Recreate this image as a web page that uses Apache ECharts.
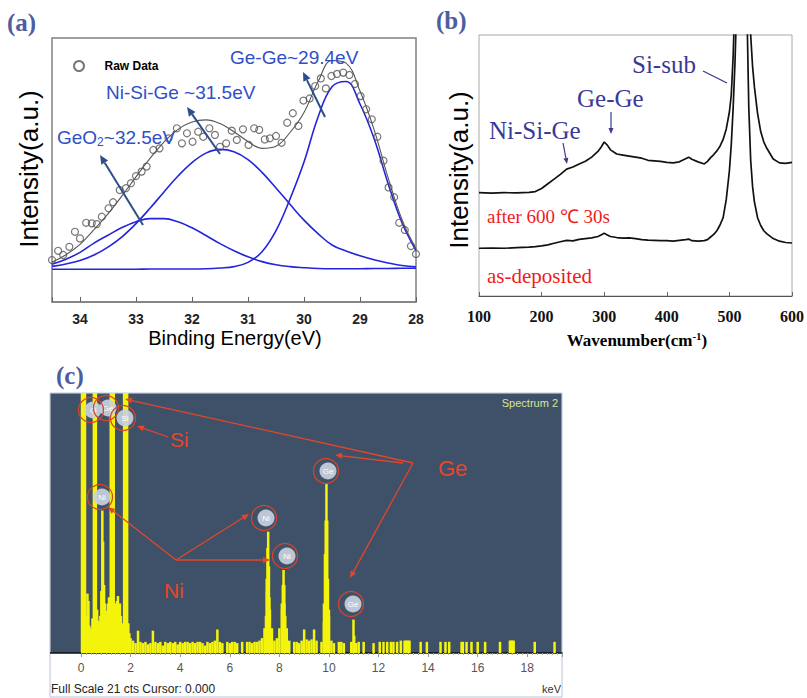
<!DOCTYPE html>
<html><head><meta charset="utf-8">
<script src="https://cdn.jsdelivr.net/npm/echarts@6/dist/echarts.min.js"></script>
<style>html,body{margin:0;padding:0;background:#fff}#c{width:807px;height:698px}</style>
</head><body><div id="c"></div>
<script>
// ---------- (a) XPS Ge 3d ----------
const xpsEnergy = [34.5,34.25,34,33.75,33.5,33.25,33,32.75,32.5,32.25,32,31.75,31.5,31.25,31,30.75,30.5,30.25,30,29.75,29.5,29.25,29,28.75,28.5,28.25,28];
const xpsGeO2   = [14.3,16.2,18.8,22.3,25.3,28.2,30.4,31.6,31.6,30.4,28.1,25.2,22.1,19.4,17.1,15.3,14.1,13.4,13.0,12.7,12.6,12.6,12.6,12.7,12.7,12.8,12.8];
const xpsNiSiGe = [13.5,14.4,15.7,17.8,20.8,24.7,29.7,35.5,41.7,47.7,52.8,56.4,57.8,56.9,53.9,49.1,43.2,37.0,31.0,25.9,21.6,19.3,17.5,16.0,14.8,13.8,13.3];
const xpsGeGe   = [12.4,12.4,12.4,12.4,12.4,12.4,12.4,12.5,12.5,12.5,12.5,12.6,12.9,13.4,15.0,19.0,27.0,39.0,53.0,70.0,81.5,83.5,75.0,62.0,45.0,30.0,19.5];
const xpsFit    = [15.1,17.9,21.8,27.4,33.4,40.2,47.4,54.4,60.6,65.4,68.2,69.0,67.6,64.5,60.8,58.2,59.0,64.2,71.8,83.4,91.5,90.5,79.9,65.4,47.2,31.2,20.2];
const rawEnergy    = [34.5,34.39,34.3,34.19,34.09,34.0,33.89,33.79,33.7,33.61,33.49,33.41,33.29,33.18,33.09,33.0,32.9,32.81,32.69,32.58,32.42,32.27,32.18,32.09,31.99,31.89,31.8,31.69,31.59,31.5,31.39,31.29,31.2,31.09,30.99,30.89,30.8,30.7,30.61,30.5,30.4,30.3,30.2,30.1,30.01,29.9,29.8,29.7,29.61,29.51,29.41,29.3,29.19,29.09,28.99,28.89,28.79,28.69,28.58,28.49,28.39,28.3,28.2,28.09,28.0];
const rawIntensity = [15.9,19.4,17.8,20.9,26.6,24.1,30.0,29.8,29.5,32.3,35.5,37.8,42.4,43.1,45.0,47.7,49.4,51.3,57.6,58.2,62.0,65.8,60.1,63.9,60.7,64.5,62.6,65.8,63.3,58.8,60.1,64.9,61.4,65.4,59.5,65.8,65.2,61.6,62.0,62.9,60.3,67.9,71.5,66.7,76.3,77.1,81.8,84.7,80.9,85.6,86.4,86.9,86.0,82.6,78.0,73.0,69.2,62.6,53.5,43.4,39.7,30.0,27.3,21.2,18.2];

// ---------- (b) Raman ----------
const ramanShift = [100,120,140,160,180,190,200,210,220,230,240,250,260,270,280,290,295,300,305,310,320,330,340,350,360,370,380,390,400,410,420,430,435,440,450,460,465,470,475,480,485,490,495,500,503,506,509,512,515,520,525,528,531,534,537,540,545,550,555,560,570,580,590,600];
const ramanAnnealed = [39.6,39.4,39.6,39.5,39.7,40.0,41.2,43.0,44.8,46.6,48.6,49.4,50.6,51.6,53.2,55.4,57.0,59.0,57.8,56.0,54.4,54.0,53.6,53.2,52.8,52.0,51.8,51.6,51.2,51.0,51.4,52.6,53.2,52.4,51.4,50.6,51.6,53.0,54.2,55.6,57.4,60.0,64.0,70.5,77,92,115,150,200,260,200,150,118,100,88,80,70,63,59,56.5,52.5,51,50.8,51.2];
const ramanAsDep   = [18.3,18.4,18.3,18.5,18.7,18.9,19.2,19.6,20.2,20.8,21.3,21.1,21.7,22.0,22.3,22.8,23.4,24.0,23.4,22.8,22.4,22.2,22.3,22.0,21.6,21.4,21.3,21.2,21.2,21.0,21.3,21.6,21.8,21.2,21.0,21.2,21.6,22.6,23.6,25.0,27.2,30.0,37,48,58,72,90,115,170,240,160,110,72,52,42,36,30,27,25,23.8,22.0,21,20.5,20.3];
const ramanTicks = [100,200,300,400,500,600];

// ---------- (c) EDS ----------
const edsBgStart = 2.0, edsBgStep = 0.1;
const edsBgCts = [
 1.2,1.0,0.8,1.8,0.9,0.8,0.9,0.7,0.8,1.8,
 0.9,0.8,0.9,0.6,0.9,0.8,0.9,0.8,0.9,0.7,
 0.9,0.8,0.9,0.9,0.8,0.9,0.8,0.9,0.9,0.8,
 0.6,0.9,0.8,0.9,1.0,1.9,0.9,0.8,0,0.9,
 0.8,0.9,0.9,0.8,0,0.9,0,0.9,0.9,0.8,
 0.9,0.9,1.0,1.2,2.0,5.0,4.5,2.0,1.0,1.2,
 2.0,4.0,4.0,2.0,1.0,0,0.9,0.9,0.8,1.0,
 1.9,1.1,1.0,1.1,1.9,1.0,0,0.9,2.5,8.0,
 3.0,1.0,0.8,0,0.9,0.9,0.8,0,0,0.9,
 1.0,0.8,0.9,0,0.9,0,0,0,0.8,0];
const edsPeakKeV = [0.04,0.08,0.12,0.16,0.22,0.26,0.30,0.34,0.38,0.42,0.46,0.52,0.56,0.60,0.65,0.70,0.74,0.78,0.82,0.86,0.89,0.93,0.97,1.01,1.05,1.09,1.13,1.20,1.24,1.28,1.32,1.37,1.41,1.45,1.49,1.53,1.57,1.61,1.65,1.69,1.74,1.78,1.82,1.86,1.91,1.95,
 7.46,7.49,7.52,7.55,7.58,7.62, 8.11,8.14,8.17,8.20,8.24, 9.80,9.84,9.87,9.90,9.93,9.96,10.0, 10.99,11.02,
 12.05,12.2,12.35,12.5,12.6,12.75,12.9,13.05,13.1,13.15,13.2,13.25,13.7,13.95,14.5,14.7,14.85,15.35,15.4,15.55,15.75,16.0,16.3,16.9,17.3,17.35,17.4,17.45,18.3,19.1];
const edsPeakCts = [30,30,30,30,3.0,4.8,4.2,2.2,1.5,2.0,2.8,30,30,30,3.5,2.6,2.2,3.0,5.0,11.5,9.0,5.5,4.0,3.0,3.4,4.0,4.5,30,30,30,30,4.0,3.4,4.2,4.6,3.8,4.0,3.0,2.4,2.0,30,30,30,30,2.4,1.6,
 3.0,6.0,8.5,9.8,7.0,3.5, 3.5,5.5,6.7,5.5,3.0, 4.0,8.0,10.7,13.7,10.7,6.0,3.5, 2.7,1.4,
 0.9,0.9,0.9,0.9,0.9,0.9,1.0,1.0,1.0,1.0,1.0,1.0,0.9,0.9,0.9,0.9,0.9,0.9,0.9,0.9,0.9,0.9,0.9,0.9,1.0,1.0,1.0,1.0,0.9,0.9];
const edsTicks = [0,2,4,6,8,10,12,14,16,18];

// ---------- build ----------
const zip = (a, b) => a.map((v, i) => [v, b[i]]);
const edsData = edsBgCts.map((v, i) => [+(edsBgStart + i * edsBgStep).toFixed(2), v]).concat(zip(edsPeakKeV, edsPeakCts));

const SANS = '"Liberation Sans", Arial, sans-serif';
const SERIF = '"Liberation Serif", "Times New Roman", serif';
const NARROW = '"Liberation Sans Narrow", "Liberation Sans", sans-serif';
const BLUE_TXT = '#2f4fc6', BLUE_ARROW = '#2c4f8c', LBL = '#4d5d9f', RED = '#e3462c', RAMAN_TXT = '#3a3a96';

function txt(x, y, text, font, fill, align, extra) {
  return Object.assign({ type: 'text', x, y, z: 30, style: { text, font, fill, align: align || 'left', textAlign: align || 'left', verticalAlign: 'middle', textVerticalAlign: 'middle' } }, extra || {});
}
function arrow(x1, y1, x2, y2, color, w, hl, hw) {
  const a = Math.atan2(y2 - y1, x2 - x1);
  const bx = x2 - hl * Math.cos(a), by = y2 - hl * Math.sin(a);
  const px = -Math.sin(a) * hw, py = Math.cos(a) * hw;
  return [
    { type: 'line', z: 30, shape: { x1, y1, x2: bx, y2: by }, style: { stroke: color, lineWidth: w } },
    { type: 'polygon', z: 30, shape: { points: [[x2, y2], [bx + px, by + py], [bx - px, by - py]] }, style: { fill: color } }
  ];
}
function tag(cx, cy, label) {
  return [
    { type: 'circle', z: 25, shape: { cx: cx, cy: cy, r: 8.5 }, style: { fill: 'rgba(200,208,222,0.92)' } },
    { type: 'text', z: 26, x: cx, y: cy, style: { text: label, font: '8px ' + SANS, fill: '#ffffff', align: 'center', textAlign: 'center', verticalAlign: 'middle', textVerticalAlign: 'middle' } },
    { type: 'circle', z: 27, shape: { cx: cx - 2, cy: cy, r: 12.5 }, style: { fill: 'none', stroke: '#d8442a', lineWidth: 1.2 } }
  ];
}

const graphics = [
  // panel (c) frame and dark plot background
  { type: 'rect', z: -5, shape: { x: 50, y: 393, width: 512, height: 304 }, style: { fill: '#ffffff', stroke: '#b9c6d8', lineWidth: 1 } },
  { type: 'rect', z: -4, shape: { x: 50.5, y: 393.5, width: 511, height: 259.5 }, style: { fill: '#3f5169' } },
  { type: 'line', z: 5, shape: { x1: 50, y1: 653, x2: 81, y2: 653 }, style: { stroke: '#111', lineWidth: 1.5 } },
  // panel labels
  txt(7, 22, '(a)', 'bold 25px ' + SERIF, LBL),
  txt(436, 20, '(b)', 'bold 25px ' + SERIF, LBL),
  txt(56, 375, '(c)', 'bold 25px ' + SERIF, LBL),
  // (a) titles
  txt(29, 169, 'Intensity(a.u.)', '26px ' + SANS, '#000', 'center', { rotation: Math.PI / 2 }),
  txt(235, 338, 'Binding Energy(eV)', '20px ' + SANS, '#000', 'center'),
  txt(230, 57, 'Ge-Ge~29.4eV', '19px ' + SANS, BLUE_TXT),
  txt(106, 92, 'Ni-Si-Ge ~31.5eV', '19px ' + SANS, BLUE_TXT),
  { type: 'text', x: 57, y: 137, z: 30, style: { text: '{a|GeO}{s|2}{a|~32.5eV}', align: 'left', textAlign: 'left', verticalAlign: 'middle', textVerticalAlign: 'middle',
      rich: { a: { font: '19px ' + SANS, fill: BLUE_TXT, color: BLUE_TXT }, s: { font: '12px ' + SANS, fill: BLUE_TXT, color: BLUE_TXT, padding: [10, 0, 0, 0] } } } },
  ...arrow(143, 225, 100, 155, BLUE_ARROW, 2, 9, 4),
  ...arrow(220, 154, 187, 107, BLUE_ARROW, 2, 9, 4),
  ...arrow(325, 117, 303, 72, BLUE_ARROW, 2, 9, 4),
  // (b) titles
  txt(459, 170, 'Intensity(a.u.)', '26px ' + SANS, '#000', 'center', { rotation: Math.PI / 2 }),
  { type: 'text', x: 637, y: 340, z: 30, style: { text: '{a|Wavenumber(cm}{s|-1}{a|)}', align: 'center', textAlign: 'center', verticalAlign: 'middle', textVerticalAlign: 'middle',
      rich: { a: { font: 'bold 17px ' + SERIF, fill: '#000', color: '#000' }, s: { font: 'bold 11px ' + SERIF, fill: '#000', color: '#000', padding: [0, 0, 8, 0] } } } },
  txt(632, 64, 'Si-sub', '25px ' + SERIF, RAMAN_TXT),
  { type: 'line', z: 30, shape: { x1: 703, y1: 71, x2: 727, y2: 83 }, style: { stroke: RAMAN_TXT, lineWidth: 1.3 } },
  txt(577, 98, 'Ge-Ge', '25px ' + SERIF, RAMAN_TXT),
  ...arrow(611, 112, 611, 134, RAMAN_TXT, 1.2, 6, 2.5),
  txt(489, 130, 'Ni-Si-Ge', '25px ' + SERIF, RAMAN_TXT),
  ...arrow(563, 143, 567, 164, RAMAN_TXT, 1.2, 6, 2.5),
  txt(487, 216, 'after 600 \u2103 30s', '19px ' + SERIF, '#ee1c1c'),
  txt(487, 276, 'as-deposited', '21px ' + SERIF, '#ee1c1c'),
  // (c) texts
  txt(558, 403, 'Spectrum 2', '11px ' + NARROW, '#d6e69a', 'right'),
  txt(51, 689, 'Full Scale 21 cts Cursor: 0.000', '12px ' + NARROW, '#222', 'left'),
  txt(561, 689, 'keV', '11px ' + NARROW, '#333', 'right'),
  ...tag(93, 410, 'O'),
  ...tag(108, 408, 'Ge'),
  ...tag(125, 418, 'Si'),
  ...tag(102, 497, 'Ni'),
  ...tag(266, 518, 'Ni'),
  ...tag(287, 556, 'Ni'),
  ...tag(328, 471, 'Ge'),
  ...tag(353, 604, 'Ge'),
  txt(170, 439, 'Si', '21px ' + SANS, RED),
  txt(164, 590, 'Ni', '21px ' + SANS, RED),
  txt(438, 468, 'Ge', '22px ' + SANS, RED),
  ...arrow(168, 437, 137, 426, RED, 1.3, 7, 3),
  ...arrow(176, 560, 108, 507, RED, 1.3, 7, 3),
  ...arrow(176, 560, 249, 514, RED, 1.3, 7, 3),
  ...arrow(176, 560, 270, 560, RED, 1.3, 7, 3),
  ...arrow(413, 463, 125, 399, RED, 1.3, 7, 3),
  ...arrow(403, 463, 335, 455, RED, 1.3, 7, 3),
  ...arrow(413, 463, 350, 578, RED, 1.3, 7, 3)
];

const chart = echarts.init(document.getElementById('c'), null, { renderer: 'svg' });
chart.setOption({
  animation: false,
  backgroundColor: '#ffffff',
  legend: { data: ['Raw Data'], left: 68, top: 55, itemWidth: 25, itemHeight: 10, textStyle: { fontFamily: SANS, fontWeight: 'bold', fontSize: 12, color: '#000', padding: [0, 0, 0, 8] } },
  grid: [
    { left: 52, top: 38, width: 364, height: 264, show: true, borderColor: '#808080', borderWidth: 1.5, backgroundColor: 'transparent' },
    { left: 479, top: 35, width: 317, height: 261, show: true, borderColor: '#a8a8a8', borderWidth: 1, backgroundColor: 'transparent' },
    { left: 81, top: 393, width: 481, height: 260 }
  ],
  xAxis: [
    { gridIndex: 0, type: 'value', min: 28, max: 34.5, interval: 1, inverse: true,
      axisLine: { lineStyle: { color: '#808080', width: 1.5 } }, axisTick: { inside: true, length: 5, lineStyle: { color: '#666' } },
      splitLine: { show: false },
      axisLabel: { margin: 10, fontFamily: SANS, fontSize: 14, fontWeight: 'bold', color: '#222', formatter: v => Number.isInteger(v) ? String(v) : '' } },
    { gridIndex: 1, type: 'value', min: 100, max: 600, interval: 100,
      axisLine: { lineStyle: { color: '#555', width: 1 } }, axisTick: { inside: true, length: 4, lineStyle: { color: '#666' } },
      splitLine: { show: false },
      axisLabel: { margin: 12, fontFamily: SERIF, fontSize: 16, fontWeight: 'bold', color: '#111', formatter: v => ramanTicks.includes(v) ? String(v) : '' } },
    { gridIndex: 2, type: 'value', min: 0, max: 19.4, interval: 2,
      axisLine: { lineStyle: { color: '#111', width: 1.5 } }, axisTick: { length: 4, lineStyle: { color: '#999' } },
      minorTick: { show: true, splitNumber: 10, length: 2, lineStyle: { color: '#aaa' } },
      splitLine: { show: false },
      axisLabel: { margin: 9, fontFamily: NARROW, fontSize: 12, color: '#555', formatter: v => edsTicks.includes(v) ? String(v) : '' } }
  ],
  yAxis: [
    { gridIndex: 0, type: 'value', min: 0, max: 100, show: true, axisLine: { show: false }, axisTick: { show: false }, axisLabel: { show: false }, splitLine: { show: false } },
    { gridIndex: 1, type: 'value', min: 0, max: 100, show: true, axisLine: { show: false }, axisTick: { show: false }, axisLabel: { show: false }, splitLine: { show: false } },
    { gridIndex: 2, type: 'value', min: 0, max: 21, show: true, axisLine: { show: false }, axisTick: { show: false }, axisLabel: { show: false }, splitLine: { show: false } }
  ],
  series: [
    { name: 'GeO2', type: 'line', xAxisIndex: 0, yAxisIndex: 0, data: zip(xpsEnergy, xpsGeO2), smooth: 0.4, showSymbol: false, lineStyle: { color: '#2424dc', width: 1.6 }, z: 3 },
    { name: 'Ni-Si-Ge', type: 'line', xAxisIndex: 0, yAxisIndex: 0, data: zip(xpsEnergy, xpsNiSiGe), smooth: 0.4, showSymbol: false, lineStyle: { color: '#2424dc', width: 1.6 }, z: 3 },
    { name: 'Ge-Ge', type: 'line', xAxisIndex: 0, yAxisIndex: 0, data: zip(xpsEnergy, xpsGeGe), smooth: 0.4, showSymbol: false, lineStyle: { color: '#2424dc', width: 1.6 }, z: 3 },
    { name: 'Fit', type: 'line', xAxisIndex: 0, yAxisIndex: 0, data: zip(xpsEnergy, xpsFit), smooth: 0.4, showSymbol: false, lineStyle: { color: '#555', width: 1.1 }, z: 4 },
    { name: 'Raw Data', type: 'scatter', xAxisIndex: 0, yAxisIndex: 0, data: zip(rawEnergy, rawIntensity), symbol: 'circle', symbolSize: 7,
      itemStyle: { color: 'rgba(255,255,255,0)', borderColor: '#555', borderWidth: 1.2 }, z: 5 },
    { name: 'after 600 C 30s', type: 'line', xAxisIndex: 1, yAxisIndex: 1, data: zip(ramanShift, ramanAnnealed), showSymbol: false, clip: true, lineStyle: { color: '#111', width: 1.7 } },
    { name: 'as-deposited', type: 'line', xAxisIndex: 1, yAxisIndex: 1, data: zip(ramanShift, ramanAsDep), showSymbol: false, clip: true, lineStyle: { color: '#111', width: 1.7 } },
    { name: 'Spectrum 2', type: 'bar', xAxisIndex: 2, yAxisIndex: 2, data: edsData, barWidth: 2.5, clip: true, itemStyle: { color: '#f4f40c' }, z: 2 }
  ],
  graphic: { elements: graphics }
});
</script></body></html>
